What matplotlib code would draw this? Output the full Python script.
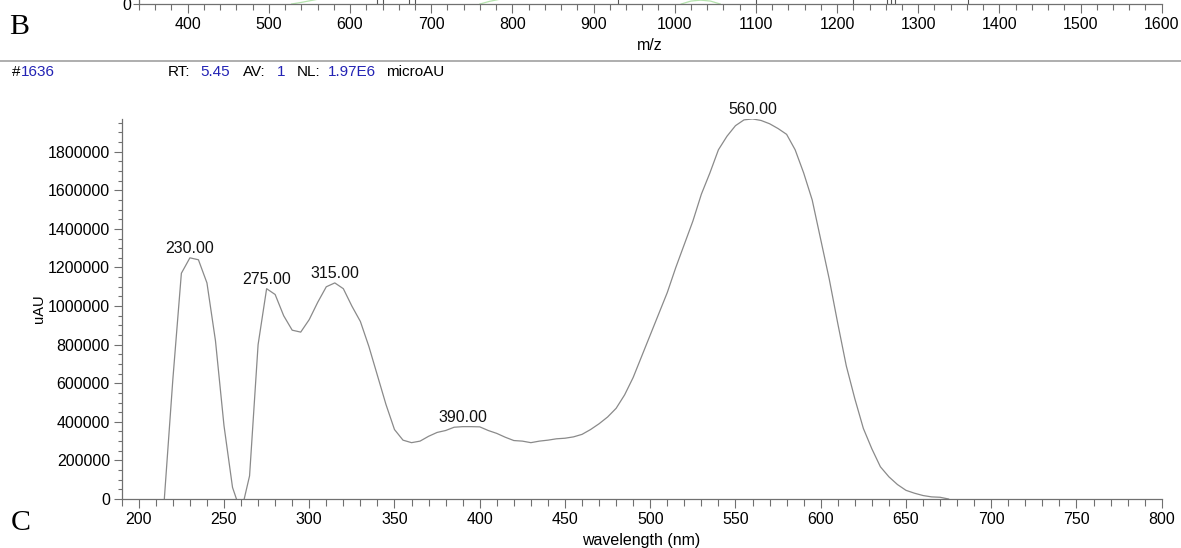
import matplotlib
matplotlib.use("Agg")
import matplotlib.pyplot as plt
from matplotlib.ticker import MultipleLocator, FuncFormatter

plt.rcParams['font.family'] = ['Liberation Sans', 'DejaVu Sans']

# ---------------- data ----------------
wavelength = [215, 220, 225, 230, 235, 240, 245, 250, 255, 260, 265, 270, 275, 280,
              285, 290, 295, 300, 305, 310, 315, 320, 325, 330, 335, 340, 345, 350,
              355, 360, 365, 370, 375, 380, 385, 390, 395, 400, 405, 410, 415, 420,
              425, 430, 435, 440, 445, 450, 455, 460, 465, 470, 475, 480, 485, 490,
              495, 500, 505, 510, 515, 520, 525, 530, 535, 540, 545, 550, 555, 560,
              565, 570, 575, 580, 585, 590, 595, 600, 605, 610, 615, 620, 625, 630,
              635, 640, 645, 650, 655, 660, 665, 670, 675]
absorbance = [0, 620000, 1170000, 1250000, 1240000, 1120000, 820000, 380000, 60000,
              -70000, 120000, 800000, 1090000, 1060000, 950000, 875000, 865000, 930000,
              1020000, 1100000, 1120000, 1090000, 1000000, 920000, 790000, 640000,
              490000, 360000, 305000, 292000, 300000, 325000, 345000, 355000, 372000,
              375000, 375000, 374000, 355000, 340000, 320000, 303000, 300000, 292000,
              300000, 305000, 312000, 315000, 322000, 335000, 360000, 390000, 425000,
              470000, 540000, 630000, 740000, 850000, 960000, 1070000, 1200000,
              1320000, 1440000, 1580000, 1690000, 1810000, 1880000, 1935000, 1965000,
              1970000, 1962000, 1945000, 1920000, 1890000, 1810000, 1690000, 1550000,
              1345000, 1140000, 910000, 690000, 520000, 366000, 260000, 167000, 115000,
              75000, 45000, 30000, 18000, 11000, 9000, 0]
peak_labels = [230, 275, 315, 390, 560]

# clipped fragments of the panel above (m/z sticks and profile humps)
ms_mz = [633, 640, 673, 680, 930, 1100, 1220, 1262, 1267, 1272, 1361]
ms_int = [1, 1, 1, 1, 1, 1, 1, 1, 1, 1, 1]
prof_mz = [528, 540, 552, 564, 576, float('nan'),
           760, 772, 784, 796, float('nan'),
           1008, 1020, 1032, 1044, 1056]
prof_int = [0.0, 0.12, 0.26, 0.4, 0.5, float('nan'),
            0.0, 0.2, 0.35, 0.45, float('nan'),
            0.0, 0.22, 0.29, 0.22, 0.0]

header_parts = [("#", "k", 11.5), ("1636", "b", 20.5),
                ("RT:", "k", 168), ("5.45", "b", 200), ("AV:", "k", 243),
                ("1", "b", 277), ("NL:", "k", 297), ("1.97E6", "b", 328),
                ("microAU", "k", 386)]

# ---------------- figure ----------------
W, H = 1181, 548
fig = plt.figure(figsize=(W / 100, H / 100), dpi=100)

def fx(px):
    return px / W

def fy(py):
    return 1 - py / H

AX_COL = '#707070'
LINE_COL = '#8a8a8a'
BLUE = '#2323b4'
FS = 11.5

# main axes
x0, x1, y0, y1 = 121.7, 1161.7, 499.0, 119.3
ax = fig.add_axes([fx(x0), fy(y0), fx(x1) - fx(x0), (y0 - y1) / H])
ax.plot(wavelength, absorbance, color=LINE_COL, lw=0.9)
ax.set_xlim(190, 800)
ax.set_ylim(0, 1.968e6)
for s in ['top', 'right']:
    ax.spines[s].set_visible(False)
for s in ['left', 'bottom']:
    ax.spines[s].set_color(AX_COL)
    ax.spines[s].set_linewidth(0.9)
ax.xaxis.set_major_locator(MultipleLocator(50))
ax.xaxis.set_minor_locator(MultipleLocator(10))
ax.yaxis.set_major_locator(MultipleLocator(200000))
ax.yaxis.set_minor_locator(MultipleLocator(50000))
ax.yaxis.set_major_formatter(FuncFormatter(lambda v, p: f"{int(round(v))}"))
ax.tick_params(axis='x', which='major', length=6.8, width=0.8, color=AX_COL,
               pad=2.7, labelsize=FS)
ax.tick_params(axis='x', which='minor', length=4.7, width=0.8, color=AX_COL)
ax.tick_params(axis='y', which='major', length=5.8, width=0.8, color=AX_COL,
               pad=2.7, labelsize=FS)
ax.tick_params(axis='y', which='minor', length=3.2, width=0.8, color=AX_COL)

wl_to_val = dict(zip(wavelength, absorbance))
for p in peak_labels:
    ax.annotate(f"{p:.2f}", xy=(p, wl_to_val[p]), xytext=(0, 3.3),
                textcoords='offset points', ha='center', va='baseline',
                fontsize=FS, color='#111111')

fig.text(fx(39), fy(309), 'uAU', rotation=90, ha='center', va='center',
         fontsize=10.5)
fig.text(fx(641), fy(545), 'wavelength (nm)', ha='center', va='baseline',
         fontsize=FS)
fig.text(fx(11), fy(530), 'C', family='Liberation Serif', fontsize=21.5,
         ha='left', va='baseline')

# top strip (bottom of previous panel)
tx0, tx1, ty = 139.0, 1161.7, 4.0
axt = fig.add_axes([fx(tx0), fy(ty), fx(tx1) - fx(tx0), ty / H])
axt.plot(prof_mz, prof_int, color='#b5e3ad', lw=0.9)
axt.vlines(ms_mz, 0, ms_int, color='#555555', lw=0.8)
axt.set_xlim(340, 1600)
axt.set_ylim(0, 0.3)
for s in ['top', 'right']:
    axt.spines[s].set_visible(False)
for s in ['left', 'bottom']:
    axt.spines[s].set_color(AX_COL)
    axt.spines[s].set_linewidth(0.9)
axt.xaxis.set_major_locator(MultipleLocator(100))
axt.xaxis.set_minor_locator(MultipleLocator(20))
axt.set_yticks([0])
axt.set_yticklabels(['0'])
axt.tick_params(axis='x', which='major', length=6.7, width=0.8, color=AX_COL,
                pad=2.9, labelsize=FS)
axt.tick_params(axis='x', which='minor', length=4.3, width=0.8, color=AX_COL)
axt.tick_params(axis='y', which='major', length=4, width=0.8, color=AX_COL,
                pad=1.5, labelsize=FS)
fig.text(fx(650), fy(45), 'm/z', ha='center', va='center', fontsize=FS)
fig.text(fx(9), fy(34), 'B', family='Liberation Serif', fontsize=21.5,
         ha='left', va='baseline')

# header
fig.add_artist(plt.Line2D([0, 1], [fy(61), fy(61)], transform=fig.transFigure,
                          color='#a8a8a8', lw=1.3))
for txt, col, px in header_parts:
    fig.text(fx(px), fy(76), txt, ha='left', va='baseline', fontsize=11,
             color=(BLUE if col == 'b' else 'black'))

fig.savefig('out.png', dpi=100)
